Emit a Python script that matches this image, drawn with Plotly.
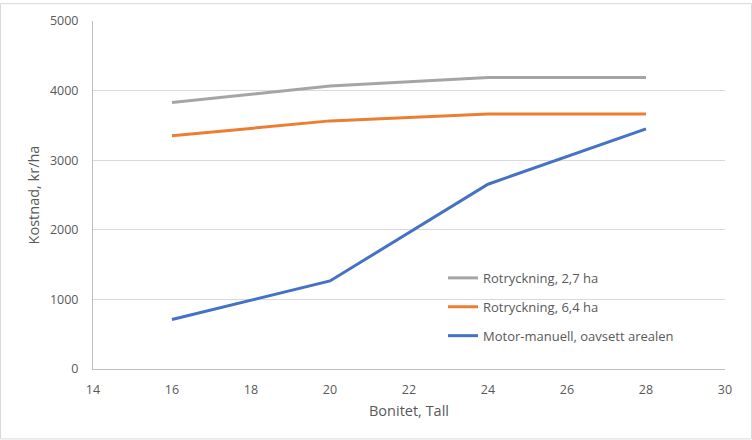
import plotly.graph_objects as go

bonitet = [16, 20, 24, 28]
rot_27 = [3830, 4065, 4190, 4190]
rot_64 = [3350, 3565, 3665, 3665]
motor = [710, 1265, 2655, 3450]

names = ["Rotryckning, 2,7 ha", "Rotryckning, 6,4 ha", "Motor-manuell, oavsett arealen"]
colors = ["#A5A5A5", "#ED7D31", "#4472C4"]
series = [rot_27, rot_64, motor]

fig = go.Figure()
for i, (n, c, s) in enumerate(zip(names, colors, series)):
    fig.add_trace(go.Scatter(x=bonitet, y=s, mode="lines", name=n,
                             line=dict(color=c, width=3), legendgroup=str(i)))

W, H = 752, 440
L, R, T, B = 93, 27, 18, 71
pw, ph = W - L - R, H - T - B

fig.update_layout(
    width=W, height=H,
    margin=dict(l=L, r=R, t=T, b=B),
    paper_bgcolor="white", plot_bgcolor="white",
    font=dict(family="Open Sans, Liberation Sans, sans-serif", color="#595959", size=12),
    showlegend=True,
    legend=dict(x=(443 - L) / pw, y=(T + ph - 262) / ph, xanchor="left", yanchor="top",
                bgcolor="rgba(0,0,0,0)", font=dict(size=13, color="#595959"),
                tracegroupgap=9, itemwidth=30),
    xaxis=dict(range=[14, 30], dtick=2, tick0=14, showgrid=False, zeroline=False,
               showline=True, linecolor="#BFBFBF", linewidth=1, ticks="",
               ticklabelstandoff=9,
               title=dict(text="Bonitet, Tall", font=dict(size=14.5, color="#595959"), standoff=8),
               tickfont=dict(size=12.5, color="#595959")),
    yaxis=dict(range=[0, 5000], dtick=1000, showgrid=True, gridcolor="#D9D9D9", gridwidth=1,
               zeroline=False, showline=True, linecolor="#BFBFBF", linewidth=1, ticks="",
               ticklabelstandoff=11,
               title=dict(text="Kostnad, kr/ha", font=dict(size=14.5, color="#595959"), standoff=6),
               tickfont=dict(size=12.5, color="#595959")),
    shapes=[dict(type="rect", xref="paper", yref="paper",
                 x0=(-L + 0.5) / pw, x1=(pw + R - 0.5) / pw,
                 y0=(-B + 0.5) / ph, y1=(ph + T - 0.5) / ph,
                 line=dict(color="#D9D9D9", width=1), layer="below")],
)

fig.write_html("out.html")
